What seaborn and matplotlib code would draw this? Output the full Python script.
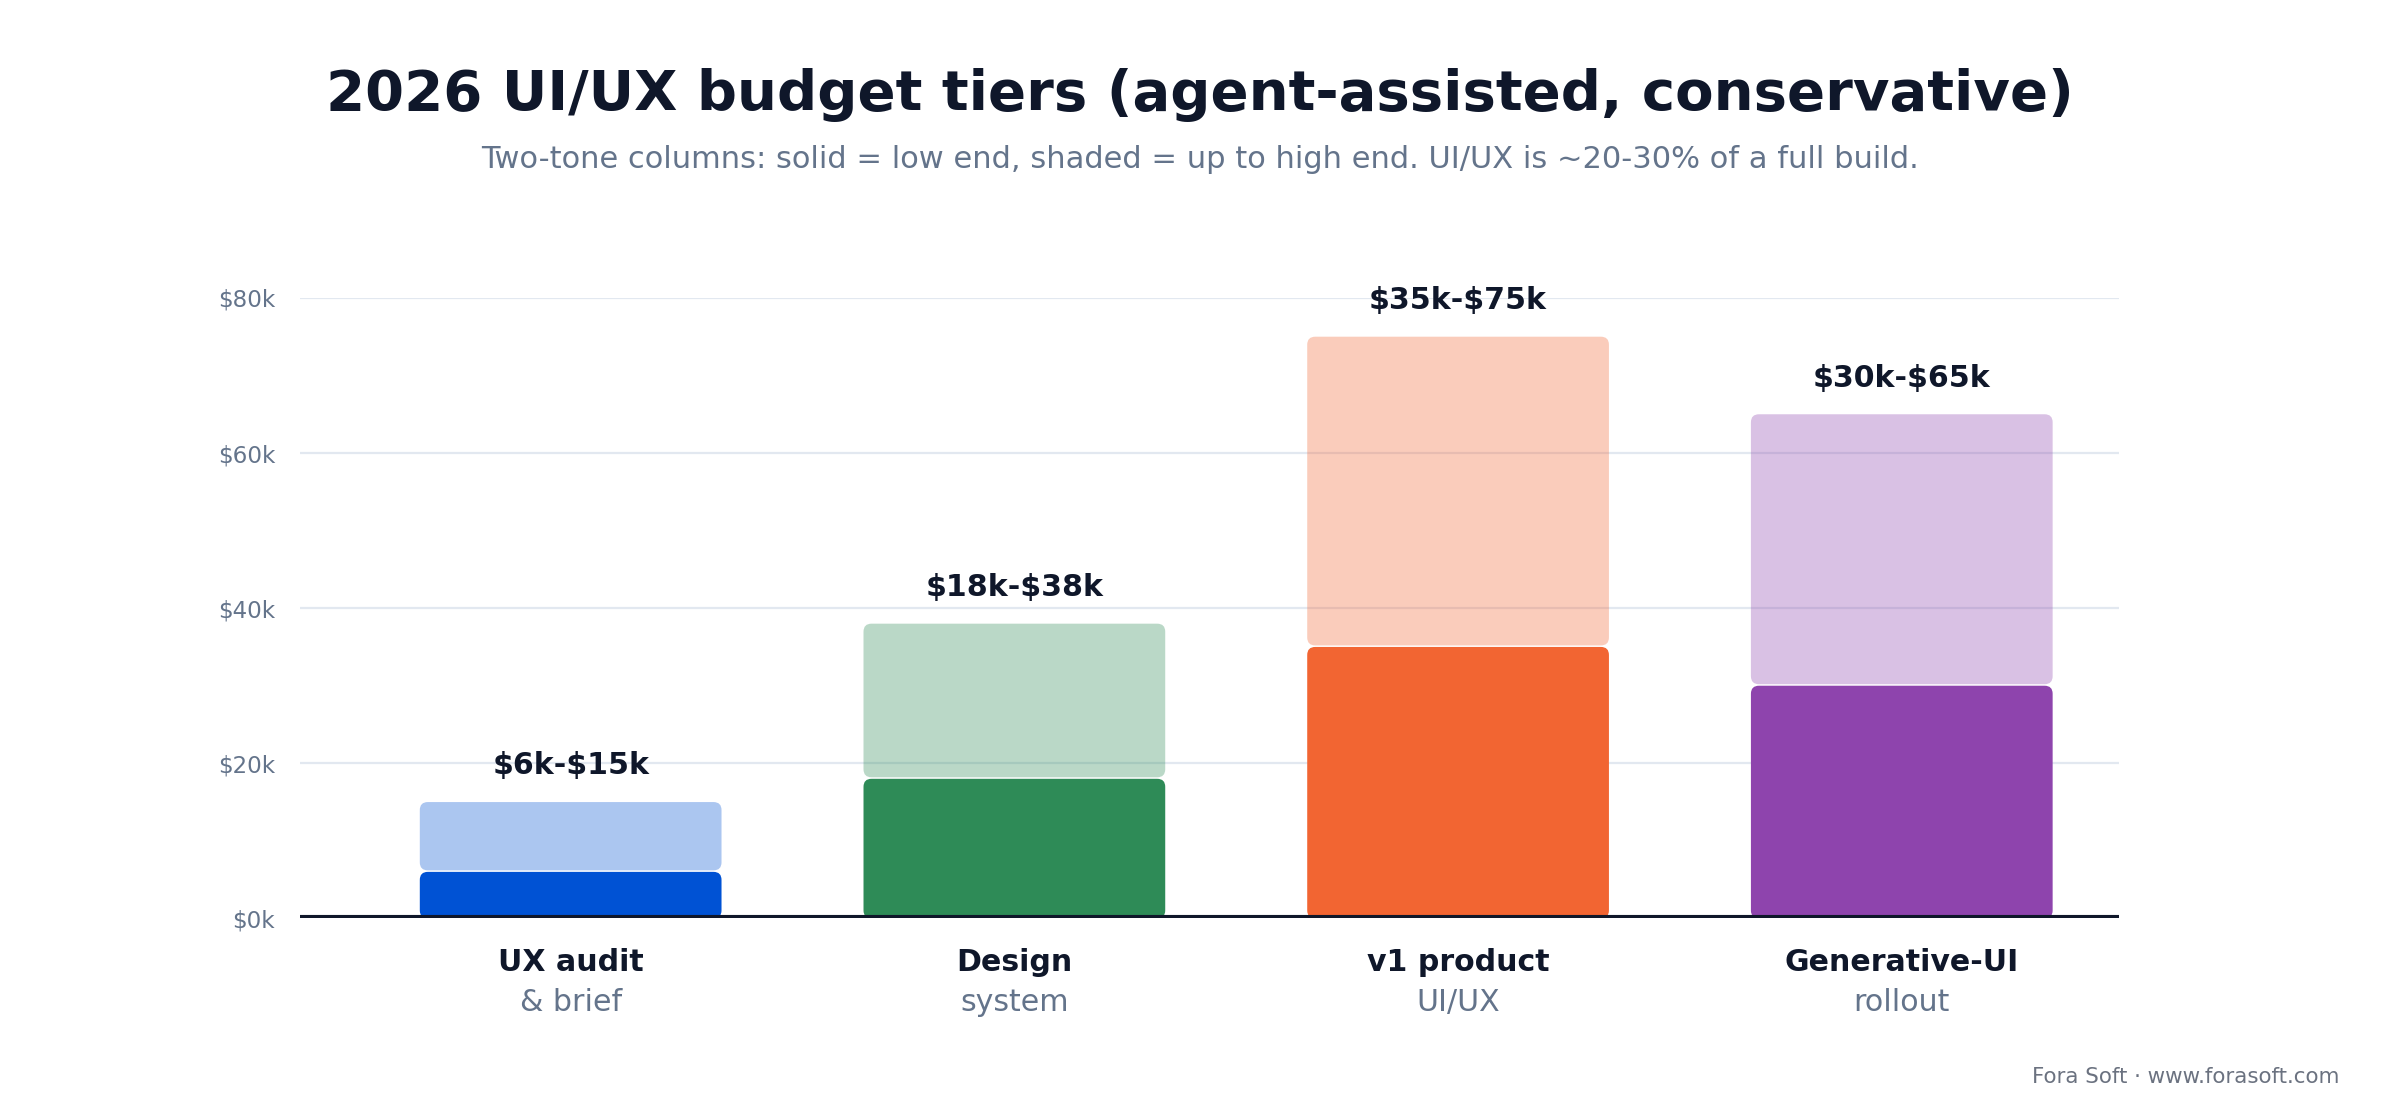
import matplotlib
matplotlib.use("Agg")
import matplotlib.pyplot as plt
from matplotlib.patches import FancyBboxPatch
import seaborn as sns
import pandas as pd

# values in $k
tiers = ["UX audit", "Design", "v1 product", "Generative-UI"]
tier_sub = ["& brief", "system", "UI/UX", "rollout"]
low_k = [6, 18, 35, 30]
high_k = [15, 38, 75, 65]
range_labels = ["$6k-$15k", "$18k-$38k", "$35k-$75k", "$30k-$65k"]
colors = ["#0052D4", "#2E8B57", "#F26532", "#8E44AD"]
y_ticks = [0, 20, 40, 60, 80]

INK = "#0F172A"
MUTED = "#64748B"

df = pd.DataFrame({"tier": tiers, "low": low_k, "high": high_k})

sns.set_theme(style="white")
plt.rcParams["font.family"] = ["DejaVu Sans"]
plt.rcParams["text.parse_math"] = False

fig = plt.figure(figsize=(12, 5.6), dpi=200, facecolor="white")
ax = fig.add_axes([0.125, 0.18, 0.758, 0.554])

sns.barplot(data=df, x="tier", y="high", hue="tier", palette=colors, saturation=1,
            legend=False, width=0.68, ax=ax, alpha=0.33)
high_patches = list(ax.patches)
sns.barplot(data=df, x="tier", y="low", hue="tier", palette=colors, saturation=1,
            legend=False, width=0.68, ax=ax)
low_patches = [p for p in ax.patches if p not in high_patches]

ax.set_xlim(-0.61, 3.49)
ax.set_ylim(0, 80)

# rounded corners: swap rectangles for fancy boxes
bbox = ax.get_position()
w_px = bbox.width * fig.get_figwidth() * fig.dpi
h_px = bbox.height * fig.get_figheight() * fig.dpi
x_per_px = 4.1 / w_px
y_per_px = 80 / h_px
aspect = y_per_px / x_per_px
r = 8 * x_per_px
gap = 1.5 * y_per_px

def rounded(p, y0, y1, alpha):
    box = FancyBboxPatch((p.get_x(), y0), p.get_width(), y1 - y0,
                         boxstyle=f"round,pad=0,rounding_size={r}",
                         mutation_aspect=aspect, facecolor=p.get_facecolor(),
                         edgecolor="none", alpha=alpha, zorder=2)
    p.remove()
    ax.add_patch(box)

for i, p in enumerate(high_patches):
    rounded(p, low_k[i] + gap, high_k[i], 0.33)
for i, p in enumerate(low_patches):
    rounded(p, 0, low_k[i], 1.0)

# range labels above bars, category labels below
for i in range(len(tiers)):
    ax.annotate(range_labels[i], (i, high_k[i]), xytext=(0, 13),
                textcoords="offset points", ha="center", va="center",
                fontsize=10.8, fontweight="bold", color=INK, annotation_clip=False)
    ax.annotate(tiers[i], (i, 0), xytext=(0, -15.8), textcoords="offset points",
                ha="center", va="center", fontsize=10.8, fontweight="bold",
                color=INK, annotation_clip=False)
    ax.annotate(tier_sub[i], (i, 0), xytext=(0, -30.2), textcoords="offset points",
                ha="center", va="center", fontsize=10.8, color=MUTED,
                annotation_clip=False)

ax.set_yticks(y_ticks)
ax.set_yticklabels([f"${v}k" for v in y_ticks], color=MUTED, fontsize=8.3)
ax.tick_params(axis="y", length=0, pad=9)
ax.set_xticks([])
ax.set_xlabel("")
ax.set_ylabel("")
ax.grid(axis="y", color="#E2E8F0", linewidth=0.8, zorder=0)
ax.set_axisbelow(True)
for s in ax.spines.values():
    s.set_visible(False)
ax.axhline(0, color=INK, linewidth=2.2, zorder=3)

fig.text(0.5, 0.915, "2026 UI/UX budget tiers (agent-assisted, conservative)",
         ha="center", va="center", fontsize=20.2, fontweight="bold", color=INK)
fig.text(0.5, 0.858, "Two-tone columns: solid = low end, shaded = up to high end. "
         "UI/UX is ~20-30% of a full build.",
         ha="center", va="center", fontsize=11, color=MUTED)
fig.text(0.975, 0.038, "Fora Soft \u00b7 www.forasoft.com", ha="right", va="center",
         fontsize=7.7, color="#6B7280")

fig.savefig("out.png", dpi=200, facecolor="white")
